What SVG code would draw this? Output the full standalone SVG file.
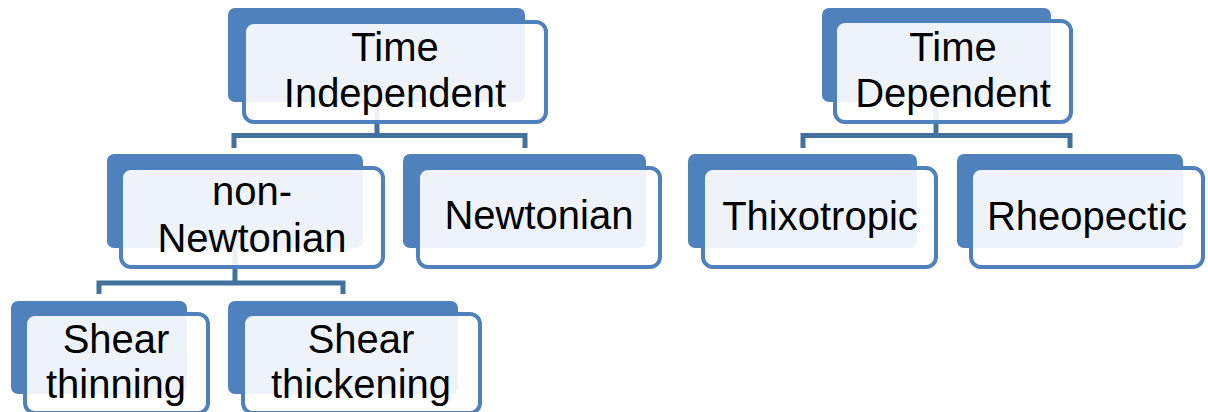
<svg xmlns="http://www.w3.org/2000/svg" width="1208" height="412" viewBox="0 0 1208 412">
<style>
.back{fill:#4F81BD}
.front{fill:#ffffff;fill-opacity:0.9;stroke:#4F81BD;stroke-width:4}
.conn{fill:none;stroke:#41719C;stroke-width:5;stroke-linejoin:miter}
text{font-family:"Liberation Sans",Arial,sans-serif;font-size:40px;fill:#000;text-anchor:middle}
</style>
<rect width="1208" height="412" fill="#ffffff"/>
<g id="connectors">
<path class="conn" d="M377 102 V135.5 M234 148 V135.5 H525 V148"/>
<path class="conn" d="M235 248 V283 M99 294 V283 H343 V294"/>
<path class="conn" d="M936 102 V135.5 M803 148 V135.5 H1070 V148"/>
</g>
<g id="time-independent">
<rect class="back" x="228" y="8" width="297" height="94" rx="7"/>
<rect class="front" x="244" y="22" width="302" height="100" rx="10"/>
<text x="395" y="61">Time</text>
<text x="395" y="107">Independent</text>
</g>
<g id="non-newtonian">
<rect class="back" x="107" y="154" width="256" height="94" rx="7"/>
<rect class="front" x="121" y="168" width="262" height="99" rx="10"/>
<text x="252" y="205">non-</text>
<text x="252" y="252">Newtonian</text>
</g>
<g id="newtonian">
<rect class="back" x="403" y="154" width="243" height="94" rx="7"/>
<rect class="front" x="418" y="168" width="242" height="99" rx="10"/>
<text x="539" y="229">Newtonian</text>
</g>
<g id="shear-thinning">
<rect class="back" x="11" y="301" width="176" height="93" rx="7"/>
<rect class="front" x="25" y="314" width="183" height="99" rx="10"/>
<text x="116" y="353">Shear</text>
<text x="116" y="398">thinning</text>
</g>
<g id="shear-thickening">
<rect class="back" x="228" y="301" width="230" height="93" rx="7"/>
<rect class="front" x="243" y="314" width="237" height="99" rx="10"/>
<text x="361" y="353">Shear</text>
<text x="361" y="398">thickening</text>
</g>
<g id="time-dependent">
<rect class="back" x="822" y="8" width="229" height="94" rx="7"/>
<rect class="front" x="835" y="21" width="236" height="101" rx="10"/>
<text x="953" y="61">Time</text>
<text x="953" y="107">Dependent</text>
</g>
<g id="thixotropic">
<rect class="back" x="688" y="154" width="229" height="94" rx="7"/>
<rect class="front" x="703" y="168" width="233" height="99" rx="10"/>
<text x="820" y="230">Thixotropic</text>
</g>
<g id="rheopectic">
<rect class="back" x="957" y="154" width="226" height="94" rx="7"/>
<rect class="front" x="971" y="168" width="232" height="99" rx="10"/>
<text x="1087" y="230">Rheopectic</text>
</g>
</svg>
